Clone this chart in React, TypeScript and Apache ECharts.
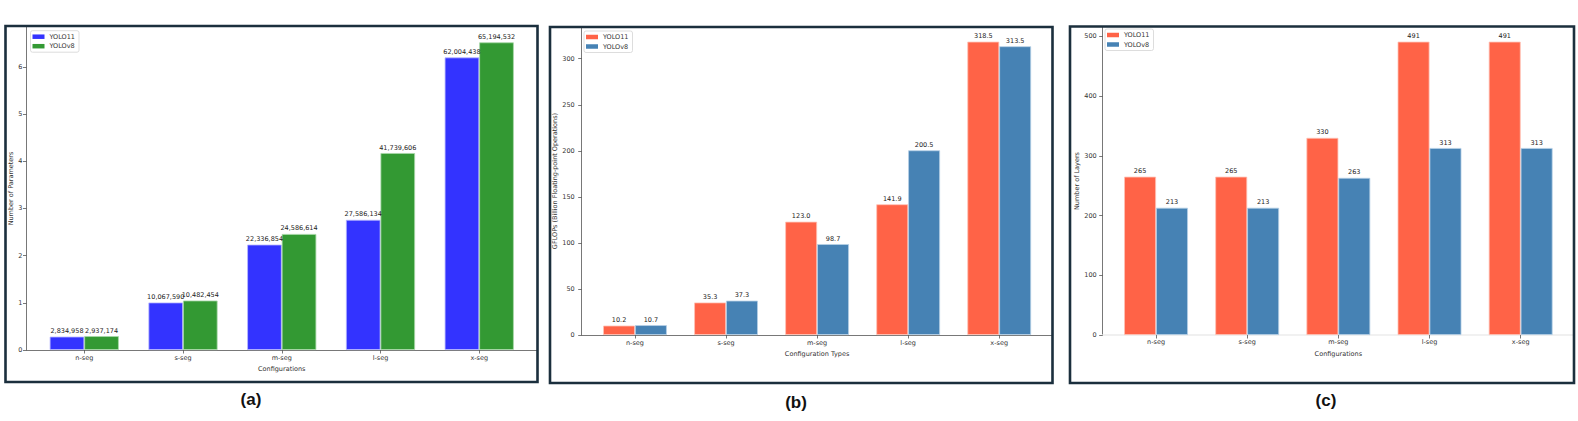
import React, { useEffect, useRef } from "react";
import * as echarts from "echarts";

const categories = ["n-seg", "s-seg", "m-seg", "l-seg", "x-seg"];
const seriesNames = ["YOLO11", "YOLOv8"];

const paramsYolo11 = [2834958, 10067590, 22336854, 27586134, 62004438];
const paramsYolov8 = [2937174, 10482454, 24586614, 41739606, 65194532];
const paramTicks = [0, 1, 2, 3, 4, 5, 6];

const gflopsYolo11 = [10.2, 35.3, 123.0, 141.9, 318.5];
const gflopsYolov8 = [10.7, 37.3, 98.7, 200.5, 313.5];
const gflopTicks = [0, 50, 100, 150, 200, 250, 300];

const layersYolo11 = [265, 265, 330, 491, 491];
const layersYolov8 = [213, 213, 263, 313, 313];
const layerTicks = [0, 100, 200, 300, 400, 500];

const panelLabels = ["(a)", "(b)", "(c)"];

const FONT = "DejaVu Sans";
const W = 1578;
const H = 421;
const XMIN = -0.585;
const XMAX = 4.585;
const HALF = 0.175;

function App() {
  const ref = useRef<HTMLDivElement>(null);

  useEffect(() => {
    document.body.style.margin = "0";
    if (!ref.current) return;
    const chart = echarts.init(ref.current, null, { renderer: "svg" });

    const panels = [
      {
        rect: { left: 26.5, top: 27, right: 537, bottom: 350 },
        a: paramsYolo11,
        b: paramsYolov8,
        colors: ["#3333ff", "#339933"],
        borders: ["#b8b8ff", "#a8d8a8"],
        scale: 1e7,
        ticks: paramTicks,
        yName: "Number of Parameters",
        xName: "Configurations",
        fmt: (v: number) => v.toLocaleString("en-US"),
        yNameGap: 12,
        yLabelMargin: 4,
        xNameGap: 12.5,
        xLabelMargin: 4,
        legend: { left: 30.5, top: 30.7 },
        xLineColor: "#555",
      },
      {
        rect: { left: 581.7, top: 27, right: 1052.5, bottom: 335 },
        a: gflopsYolo11,
        b: gflopsYolov8,
        colors: ["#ff6347", "#4682b4"],
        borders: ["#ffc2b5", "#b5cfe6"],
        scale: 1,
        ticks: gflopTicks,
        yName: "GFLOPs (Billion Floating-point Operations)",
        xName: "Configuration Types",
        fmt: (v: number) => v.toFixed(1),
        yNameGap: 18,
        yLabelMargin: 7,
        xNameGap: 11.5,
        xLabelMargin: 4,
        legend: { left: 584, top: 31 },
        xLineColor: "#555",
      },
      {
        rect: { left: 1102.7, top: 27, right: 1574, bottom: 335 },
        a: layersYolo11,
        b: layersYolov8,
        colors: ["#ff6347", "#4682b4"],
        borders: ["#ffc2b5", "#b5cfe6"],
        scale: 1,
        ticks: layerTicks,
        yName: "Number of Layers",
        xName: "Configurations",
        fmt: (v: number) => String(v),
        yNameGap: 17.5,
        yLabelMargin: 6,
        xNameGap: 11,
        xLabelMargin: 3.5,
        legend: { left: 1105, top: 29 },
        xLineColor: "#ececec",
      },
    ];

    const grid: any[] = [];
    const xAxis: any[] = [];
    const yAxis: any[] = [];
    const series: any[] = [];
    const legend: any[] = [];

    const axisText = { fontSize: 6.5, color: "#333", fontFamily: FONT };

    panels.forEach((p, i) => {
      const width = p.rect.right - p.rect.left;
      const height = p.rect.bottom - p.rect.top;
      grid.push({ left: p.rect.left, top: p.rect.top, width, height, containLabel: false });
      const unitPx = width / (XMAX - XMIN);
      const barW = 2 * HALF * unitPx;
      const ymax = Math.max(...p.a, ...p.b) * 1.05;
      const tickVals = p.ticks.map((t) => t * p.scale);

      xAxis.push({
        gridIndex: i,
        type: "value",
        min: XMIN,
        max: XMAX,
        splitLine: { show: false },
        axisLine: { show: true, onZero: false, lineStyle: { color: p.xLineColor, width: i === 2 ? 1.5 : 0.8 } },
        axisTick: { show: true, length: 3.5, lineStyle: { color: "#555", width: 0.8 }, customValues: categories.map((_, k) => k) },
        axisLabel: {
          ...axisText,
          margin: p.xLabelMargin,
          customValues: categories.map((_, k) => k),
          formatter: (v: number) => categories[Math.round(v)] ?? "",
        },
        name: p.xName,
        nameLocation: "middle",
        nameGap: p.xNameGap,
        nameTextStyle: { ...axisText },
      });

      yAxis.push({
        gridIndex: i,
        type: "value",
        min: 0,
        max: ymax,
        splitLine: { show: false },
        axisLine: { show: true, onZero: false, lineStyle: { color: "#555", width: 0.8 } },
        axisTick: { show: true, length: 3.5, lineStyle: { color: "#555", width: 0.8 }, customValues: tickVals },
        axisLabel: {
          ...axisText,
          margin: p.yLabelMargin,
          customValues: tickVals,
          formatter: (v: number) => String(Math.round(v / p.scale)),
        },
        name: p.yName,
        nameLocation: "middle",
        nameRotate: 90,
        nameGap: p.yNameGap,
        nameTextStyle: { ...axisText },
      });

      [p.a, p.b].forEach((vals, s) => {
        series.push({
          type: "bar",
          name: seriesNames[s],
          xAxisIndex: i,
          yAxisIndex: i,
          barWidth: barW,
          barGap: "-100%",
          data: vals.map((v, k) => [k + (s === 0 ? -HALF : HALF), v]),
          itemStyle: { color: p.colors[s], borderColor: p.borders[s], borderWidth: 0.8 },
          label: {
            show: true,
            position: "top",
            distance: 2,
            fontSize: 6.5,
            color: "#222",
            fontFamily: FONT,
            formatter: (params: any) => p.fmt(params.value[1]),
          },
        });
      });

      legend.push({
        orient: "vertical",
        left: p.legend.left,
        top: p.legend.top,
        itemWidth: 12,
        itemHeight: 4.5,
        itemGap: 1.5,
        padding: [2, 4, 2, 2],
        borderColor: "#d4d4d4",
        borderWidth: 0.8,
        borderRadius: 2,
        backgroundColor: "#fff",
        selectedMode: false,
        icon: "rect",
        itemStyle: { borderWidth: 0 },
        textStyle: { fontSize: 6.5, color: "#333", lineHeight: 8, fontFamily: FONT },
        data: seriesNames.map((n, s) => ({ name: n, itemStyle: { color: p.colors[s], borderWidth: 0 } })),
      });
    });

    const frames = [
      { x: 5.5, y: 26, w: 532, h: 356 },
      { x: 550, y: 27, w: 502.5, h: 356 },
      { x: 1070, y: 26.5, w: 504, h: 356.5 },
    ];
    const labelPos = [
      { x: 251, y: 399 },
      { x: 796, y: 402 },
      { x: 1326, y: 400 },
    ];

    const graphic: any[] = [];
    frames.forEach((f) => {
      graphic.push({
        type: "rect",
        z: 100,
        shape: { x: f.x, y: f.y, width: f.w, height: f.h },
        style: { fill: "none", stroke: "#1b2f3d", lineWidth: 2.6 },
        silent: true,
      });
    });
    labelPos.forEach((l, i) => {
      graphic.push({
        type: "text",
        z: 100,
        x: l.x,
        y: l.y,
        style: {
          text: panelLabels[i],
          fontSize: 17,
          fontWeight: "bold",
          fontFamily: "Liberation Sans",
          fill: "#111",
          align: "center",
          verticalAlign: "middle",
          textAlign: "center",
          textVerticalAlign: "middle",
        },
      });
    });

    chart.setOption({
      animation: false,
      backgroundColor: "#fff",
      grid,
      xAxis,
      yAxis,
      series,
      legend,
      graphic,
    });

    return () => chart.dispose();
  }, []);

  return <div ref={ref} style={{ width: W, height: H }} />;
}

export default App;
